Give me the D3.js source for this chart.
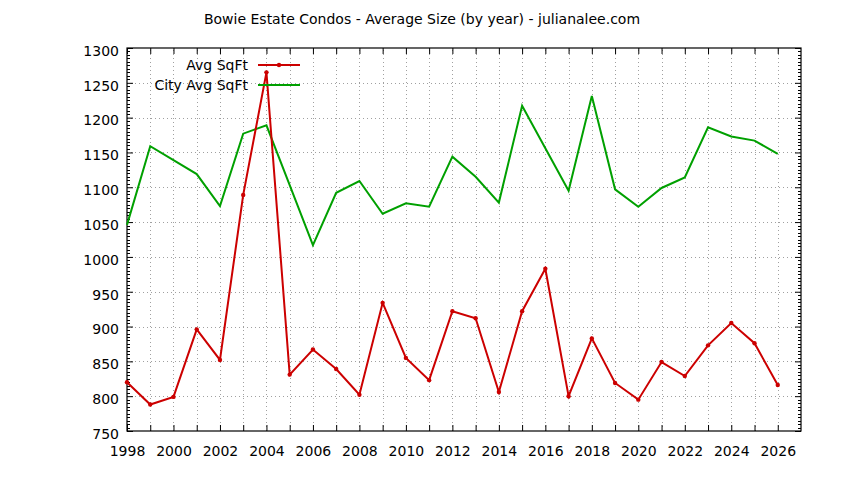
<!DOCTYPE html>
<html>
<head>
<meta charset="utf-8">
<script src="https://cdn.jsdelivr.net/npm/d3@7"></script>
<style>
  body { margin: 0; background: #fff; }
  text { font-family: "DejaVu Sans", Verdana, sans-serif; fill: #000; }
</style>
</head>
<body>
<div id="chart"></div>
<script>
const years = d3.range(1998, 2027);
const avgSqFt = [820, 788, 799, 896, 852, 1089, 1265, 831, 867, 839, 802, 934, 855, 823, 922,
                 912, 806, 922, 983, 800, 883, 819, 795, 849, 829, 873, 905, 876, 816];
const cityAvgSqFt = [1046, 1159, 1139, 1119, 1073, 1177, 1189, 1103, 1017, 1092, 1109, 1062, 1077, 1072, 1144,
                     1115, 1078, 1217, 1156, 1095, 1231, 1097, 1072, 1099, 1114, 1186, 1173, 1167, 1148];
const yTicks = d3.range(750, 1301, 50);
const title = "Bowie Estate Condos - Average Size (by year) - julianalee.com";

const width = 844, height = 480;
const margin = { top: 48, right: 43, bottom: 49, left: 127 };
const fontSize = 14;

const svg = d3.select("#chart").append("svg")
    .attr("width", width)
    .attr("height", height);

const x = d3.scaleLinear().domain([1998, 2027]).range([margin.left, width - margin.right]);
const y = d3.scaleLinear().domain([750, 1300]).range([height - margin.bottom, margin.top]);

// grid
const grid = svg.append("g")
    .attr("stroke", "#a0a0a0")
    .attr("stroke-width", 1)
    .attr("stroke-dasharray", "1,3");
grid.selectAll(".gx")
    .data(years.filter(d => d > 1998))
    .join("line")
    .attr("x1", d => Math.round(x(d)) + 0.5).attr("x2", d => Math.round(x(d)) + 0.5)
    .attr("y1", y(750)).attr("y2", y(1300));
grid.selectAll(".gy")
    .data(yTicks.filter(d => d > 750 && d < 1300))
    .join("line")
    .attr("y1", d => Math.round(y(d)) + 0.5).attr("y2", d => Math.round(y(d)) + 0.5)
    .attr("x1", x(1998)).attr("x2", x(2027));

// axes
const minor = d3.range(750, 1301, 5);
const axisLeft = d3.axisLeft(y).tickValues(yTicks).tickSize(-6).tickPadding(8).tickFormat(d3.format("d"));
const axisRight = d3.axisRight(y).tickValues(yTicks).tickSize(-6).tickFormat("");
const axisBottom = d3.axisBottom(x).tickValues(years).tickSize(-6).tickPadding(15)
    .tickFormat(d => d % 2 === 0 ? d : "");
const axisTop = d3.axisTop(x).tickValues(years).tickSize(-6).tickFormat("");

function styleAxis(g) {
  g.select(".domain").remove();
  g.selectAll("line").attr("stroke", "#000");
  g.selectAll("text").attr("font-size", fontSize).style("font-family", "DejaVu Sans, Verdana, sans-serif");
}

svg.append("g").attr("transform", `translate(${x(1998)},0)`).call(axisLeft).call(styleAxis)
   .selectAll("text").attr("dy", "0.52em");
svg.append("g").attr("transform", `translate(${x(2027)},0)`).call(axisRight).call(styleAxis);
svg.append("g").attr("transform", `translate(0,${y(750)})`).call(axisBottom).call(styleAxis);
svg.append("g").attr("transform", `translate(0,${y(1300)})`).call(axisTop).call(styleAxis);

// minor y ticks, both sides
const mt = svg.append("g").attr("stroke", "#000");
mt.selectAll(".ml").data(minor.filter(d => d % 50 !== 0)).join("line")
    .attr("x1", x(1998)).attr("x2", x(1998) + 3)
    .attr("y1", d => Math.round(y(d)) + 0.5).attr("y2", d => Math.round(y(d)) + 0.5);
mt.selectAll(".mr").data(minor.filter(d => d % 50 !== 0)).join("line")
    .attr("x1", x(2027)).attr("x2", x(2027) - 3)
    .attr("y1", d => Math.round(y(d)) + 0.5).attr("y2", d => Math.round(y(d)) + 0.5);

// frame
svg.append("rect")
    .attr("x", x(1998)).attr("y", y(1300))
    .attr("width", x(2027) - x(1998)).attr("height", y(750) - y(1300))
    .attr("fill", "none").attr("stroke", "#000").attr("stroke-width", 1.2);

// lines
const line = d3.line().x(d => x(d[0])).y(d => y(d[1]));
const red = "#cc0000", green = "#00a000";

svg.append("path")
    .datum(d3.zip(years, cityAvgSqFt))
    .attr("d", line)
    .attr("fill", "none").attr("stroke", green).attr("stroke-width", 2);

svg.append("path")
    .datum(d3.zip(years, avgSqFt))
    .attr("d", line)
    .attr("fill", "none").attr("stroke", red).attr("stroke-width", 2);

svg.selectAll(".pt")
    .data(d3.zip(years, avgSqFt))
    .join("circle")
    .attr("cx", d => x(d[0])).attr("cy", d => y(d[1]))
    .attr("r", 2.2).attr("fill", red);

// legend
const legend = svg.append("g");
const legendItems = [
  { label: "Avg SqFt", color: red, marker: true },
  { label: "City Avg SqFt", color: green, marker: false }
];
legendItems.forEach((it, i) => {
  const ly = 65 + i * 20;
  legend.append("text")
      .attr("x", 248).attr("y", ly).attr("dy", "0.36em")
      .attr("text-anchor", "end").attr("font-size", fontSize)
      .text(it.label);
  legend.append("line")
      .attr("x1", 258).attr("x2", 300).attr("y1", ly).attr("y2", ly)
      .attr("stroke", it.color).attr("stroke-width", 2);
  if (it.marker) {
    legend.append("circle").attr("cx", 279).attr("cy", ly).attr("r", 2.2).attr("fill", it.color);
  }
});

// title
svg.append("text")
    .attr("x", 422).attr("y", 24)
    .attr("text-anchor", "middle").attr("font-size", fontSize)
    .text(title);
</script>
</body>
</html>
